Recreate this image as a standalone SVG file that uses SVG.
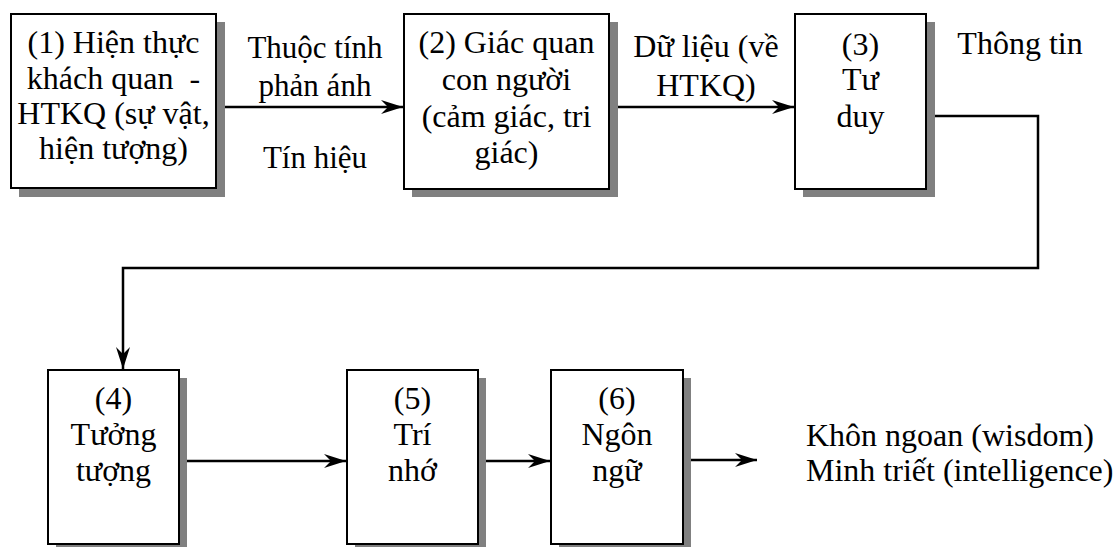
<svg xmlns="http://www.w3.org/2000/svg" width="1115" height="547" viewBox="0 0 1115 547">
  <style>
    .shadow { fill: #808080; }
    .box { fill: #ffffff; stroke: #000000; stroke-width: 2; }
    .label { font-family: "Liberation Serif", "Times New Roman", serif; font-size: 32px; fill: #000000; }
    .small { font-size: 31px; }
    .mid { text-anchor: middle; }
    .wire { fill: none; stroke: #000000; stroke-width: 2.5; }
  </style>
  <defs>
    <marker id="arrow" markerUnits="userSpaceOnUse" viewBox="-22 -8 22 16" refX="0" refY="0" markerWidth="22" markerHeight="16" orient="auto">
      <path d="M0,0 L-22,-7 L-15,0 L-22,7 Z" fill="#000000"/>
    </marker>
  </defs>
  <rect width="1115" height="547" fill="#ffffff"/>

  <!-- connectors -->
  <g id="connectors">
    <line class="wire" x1="217" y1="107" x2="403" y2="107" marker-end="url(#arrow)"/>
    <line class="wire" x1="610" y1="107" x2="794" y2="107" marker-end="url(#arrow)"/>
    <polyline class="wire" points="927,116 1038,116 1038,268 123,268 123,369" marker-end="url(#arrow)"/>
    <line class="wire" x1="180" y1="461" x2="346" y2="461" marker-end="url(#arrow)"/>
    <line class="wire" x1="479" y1="461" x2="550" y2="461" marker-end="url(#arrow)"/>
    <line class="wire" x1="684" y1="460" x2="757" y2="460" marker-end="url(#arrow)"/>
  </g>

  <!-- edge labels -->
  <g id="edge-labels" class="label mid">
    <text class="small" x="315" y="58">Thuộc tính</text>
    <text class="small" x="315" y="96">phản ánh</text>
    <text class="small" x="315" y="168">Tín hiệu</text>
    <text x="706" y="57">Dữ liệu (về</text>
    <text x="706" y="96">HTKQ)</text>
    <text x="1020" y="54">Thông tin</text>
  </g>

  <g id="node1">
    <rect class="shadow" x="19" y="22" width="206" height="175"/>
    <rect class="box" x="11" y="14" width="205" height="174"/>
    <g class="label mid">
      <text x="113.5" y="53">(1) Hiện thực</text>
      <text x="113.5" y="89">khách quan&#160; -</text>
      <text x="113.5" y="124">HTKQ (sự vật,</text>
      <text x="113.5" y="159">hiện tượng)</text>
    </g>
  </g>

  <g id="node2">
    <rect class="shadow" x="412" y="22" width="206" height="175"/>
    <rect class="box" x="404" y="14" width="205" height="175"/>
    <g class="label mid">
      <text x="506.5" y="53">(2) Giác quan</text>
      <text x="506.5" y="90">con người</text>
      <text x="506.5" y="127">(cảm giác, tri</text>
      <text x="506.5" y="163">giác)</text>
    </g>
  </g>

  <g id="node3">
    <rect class="shadow" x="803" y="22" width="132" height="175"/>
    <rect class="box" x="795" y="14" width="131" height="175"/>
    <g class="label mid">
      <text x="860.5" y="55">(3)</text>
      <text x="860.5" y="90">Tư</text>
      <text x="860.5" y="127">duy</text>
    </g>
  </g>

  <g id="node4">
    <rect class="shadow" x="56" y="378" width="131" height="176"/>
    <rect class="box" x="48" y="370" width="131" height="174"/>
    <g class="label mid">
      <text x="113.5" y="409">(4)</text>
      <text x="113.5" y="445">Tưởng</text>
      <text x="113.5" y="481">tượng</text>
    </g>
  </g>

  <g id="node5">
    <rect class="shadow" x="355" y="378" width="131" height="176"/>
    <rect class="box" x="347" y="370" width="131" height="174"/>
    <g class="label mid">
      <text x="412.5" y="409">(5)</text>
      <text x="412.5" y="445">Trí</text>
      <text x="412.5" y="481">nhớ</text>
    </g>
  </g>

  <g id="node6">
    <rect class="shadow" x="559" y="378" width="132" height="176"/>
    <rect class="box" x="551" y="370" width="132" height="174"/>
    <g class="label mid">
      <text x="617" y="409">(6)</text>
      <text x="617" y="445">Ngôn</text>
      <text x="617" y="481">ngữ</text>
    </g>
  </g>

  <g id="outcome" class="label">
    <text x="806" y="446">Khôn ngoan (wisdom)</text>
    <text x="806" y="481">Minh triết (intelligence)</text>
  </g>
</svg>
